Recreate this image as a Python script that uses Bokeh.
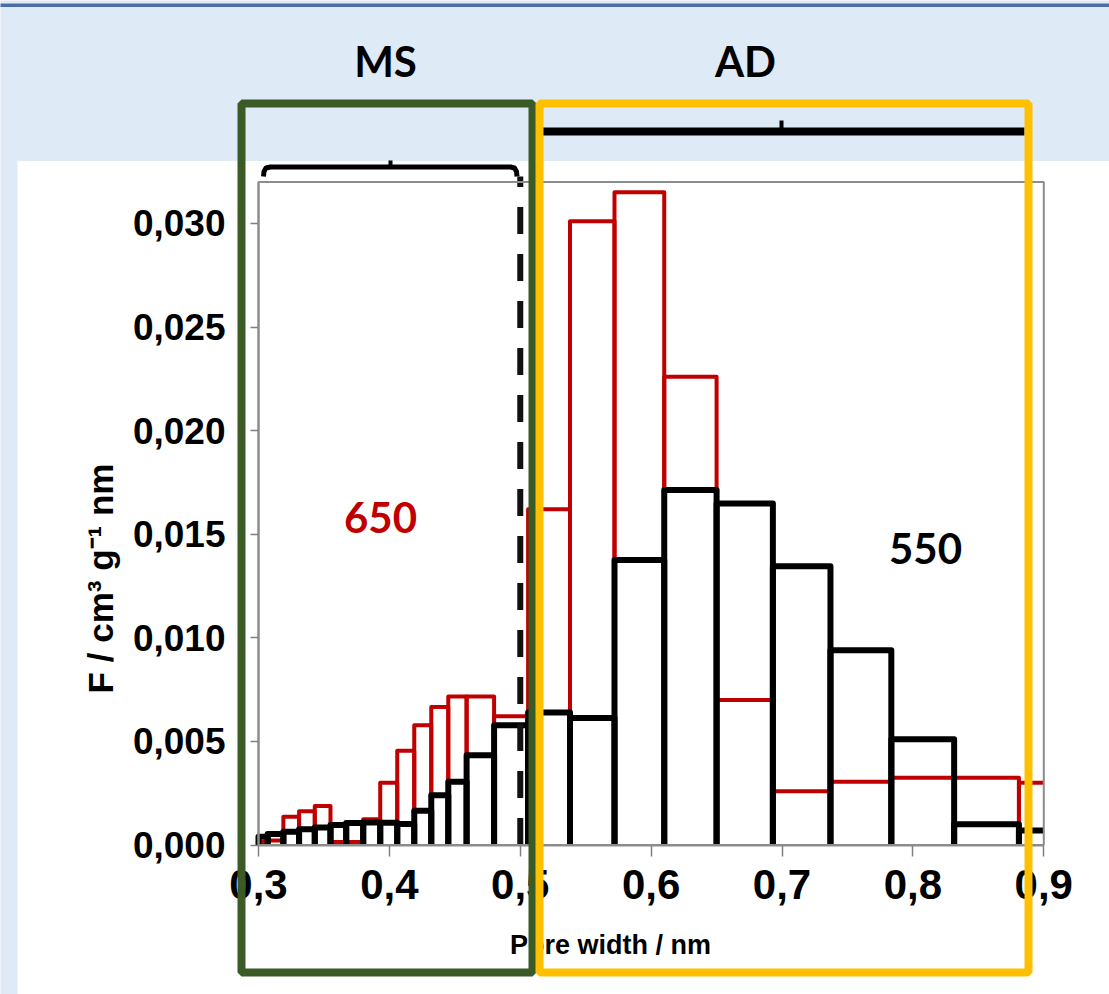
import math
from bokeh.plotting import figure
from bokeh.models import (Range1d, LinearAxis, FixedTicker, CustomJSTickFormatter,
                          BoxAnnotation, Label)
from bokeh.embed import file_html
from bokeh.resources import INLINE

# ---------------- data ----------------
bin_edges = [0.300, 0.307, 0.319, 0.331, 0.343, 0.355, 0.367, 0.380, 0.393, 0.406,
             0.419, 0.432, 0.445, 0.459, 0.480, 0.506, 0.538, 0.572, 0.610, 0.650,
             0.693, 0.737, 0.7835, 0.8315, 0.881, 0.930]
f_650 = [0.00015, 0.00022, 0.00136, 0.00163, 0.00188, 0.00014, 0.00014, 0.00124,
         0.00300, 0.00455, 0.00578, 0.00666, 0.00717, 0.00717, 0.00621, 0.01620,
         0.03010, 0.03150, 0.02260, 0.00700, 0.00260, 0.00305, 0.00325, 0.00324,
         0.00300]
f_550 = [0.00040, 0.00053, 0.00064, 0.00076, 0.00085, 0.00096, 0.00106, 0.00109,
         0.00107, 0.00101, 0.00165, 0.00240, 0.00305, 0.00433, 0.00578, 0.00640,
         0.00613, 0.01375, 0.01713, 0.01648, 0.01345, 0.00940, 0.00510, 0.00100,
         0.00070]
x_ticks = [0.3, 0.4, 0.5, 0.6, 0.7, 0.8, 0.9]
y_ticks = [0.000, 0.005, 0.010, 0.015, 0.020, 0.025, 0.030]
x_min, x_max = 0.3, 0.9
y_min, y_max = 0.0, 0.032
ms_ad_boundary = 0.5
series_labels = ["650", "550"]
section_labels = ["MS", "AD"]
x_title = "Pore width / nm"
y_title = "F / cm³ g⁻¹ nm"

# ---------------- geometry (pixels) ----------------
W, H = 1109, 994
PX_L, PX_R = 258.0, 1043.3
PY_B, PY_T = 844.5, 181.5
sx = (PX_R - PX_L) / (x_max - x_min)
sy = (PY_B - PY_T) / (y_max - y_min)


def dx(px):
    return x_min + (px - PX_L) / sx


def dy(py):
    return y_min + (PY_B - py) / sy


RED = "#C00000"
BLACK = "#000000"
GRAY = "#8C8C8C"
BG = "#DEEAF6"
SANS = "Liberation Sans, Arial, sans-serif"
CAL = "Lato, Open Sans, sans-serif"

p = figure(width=W, height=H, output_backend="svg", toolbar_location=None,
           x_range=Range1d(dx(0), dx(W)), y_range=Range1d(dy(H), dy(0)),
           x_axis_location=None, y_axis_location=None, title=None,
           min_border=0, min_border_left=0, min_border_right=0,
           min_border_top=0, min_border_bottom=0)
p.outline_line_color = None
p.background_fill_color = BG
p.border_fill_color = BG
for g in p.grid:
    g.visible = False

# backgrounds
p.add_layout(BoxAnnotation(left=dx(17), right=dx(W + 10), top=dy(160.5), bottom=dy(H + 10),
                           fill_color="white", fill_alpha=1, line_color=None, level="underlay"))
p.add_layout(BoxAnnotation(left=dx(-10), right=dx(W + 10), top=dy(3), bottom=dy(6.5),
                           fill_color="#4A6EA5", fill_alpha=1, line_color=None, level="underlay"))


def outlines(edges, vals):
    xs, ys = [], []
    for l, r, v in zip(edges[:-1], edges[1:], vals):
        if r <= x_max + 1e-9:
            xs.append([l, l, r, r]); ys.append([0, v, v, 0])
        else:
            xs.append([l, l, x_max]); ys.append([0, v, v])
    return xs, ys


xs, ys = outlines(bin_edges, f_650)
p.multi_line(xs, ys, line_color=RED, line_width=4, line_join="round")
xs, ys = outlines(bin_edges, f_550)
p.multi_line(xs, ys, line_color=BLACK, line_width=6, line_join="round")

# MS / AD boundary dashed line
p.segment(x0=[ms_ad_boundary], y0=[y_min], x1=[ms_ad_boundary], y1=[dy(176)],
          line_color="#111111", line_width=6, line_dash="27 20")

# braces
bx = [263, 263.5, 265.5, 270, 510, 514, 516, 516.5]
by = [176, 171, 167.5, 166.5, 166.5, 167.5, 171, 176]
p.line([dx(v) for v in bx], [dy(v) for v in by], line_color=BLACK, line_width=5, line_join="round")
p.line([dx(390), dx(390)], [dy(166.5), dy(160)], line_color=BLACK, line_width=4)
p.line([dx(542), dx(1024)], [dy(131), dy(131)], line_color=BLACK, line_width=8)
p.line([dx(781), dx(781)], [dy(131), dy(120)], line_color=BLACK, line_width=4)

# axes
xaxis = LinearAxis(fixed_location=y_min, bounds=(x_min, x_max),
                   ticker=FixedTicker(ticks=x_ticks),
                   formatter=CustomJSTickFormatter(code="return tick.toFixed(1).replace('.', ',');"))
yaxis = LinearAxis(fixed_location=x_min, bounds=(y_min, y_max),
                   ticker=FixedTicker(ticks=y_ticks),
                   formatter=CustomJSTickFormatter(code="return tick.toFixed(3).replace('.', ',');"))
for ax in (xaxis, yaxis):
    ax.axis_line_color = GRAY
    ax.axis_line_width = 2
    ax.major_tick_line_color = "#7F7F7F"
    ax.major_tick_line_width = 1.5
    ax.major_tick_in = 0
    ax.minor_tick_out = 0
    ax.minor_tick_in = 0
    ax.major_label_text_color = BLACK
    ax.major_label_text_font_style = "bold"
    ax.major_label_text_font = SANS
xaxis.major_tick_out = 11
xaxis.major_label_text_font_size = "42px"
xaxis.major_label_standoff = 14
yaxis.major_tick_out = 8
yaxis.major_label_text_font_size = "37px"
yaxis.major_label_standoff = 25
p.add_layout(xaxis, "below")
p.add_layout(yaxis, "left")

# texts
p.add_layout(Label(x=dx(610), y=dy(944), text=x_title, text_align="center", text_baseline="middle",
                   text_font=SANS, text_font_style="bold", text_font_size="27px", text_color=BLACK))
p.add_layout(Label(x=dx(100), y=dy(578), text=y_title, text_align="center", text_baseline="middle",
                   angle=math.pi / 2, text_font=SANS, text_font_style="bold", text_font_size="35px",
                   text_color=BLACK))
p.add_layout(Label(x=dx(380), y=dy(517), text=series_labels[0], text_align="center",
                   text_baseline="middle", text_font=CAL, text_font_style="bold",
                   text_font_size="42px", text_color=RED))
p.add_layout(Label(x=dx(925), y=dy(548), text=series_labels[1], text_align="center",
                   text_baseline="middle", text_font=CAL, text_font_style="bold",
                   text_font_size="42px", text_color=BLACK))
p.add_layout(Label(x=dx(385), y=dy(60), text=section_labels[0], text_align="center",
                   text_baseline="middle", text_font=CAL, text_font_style="bold",
                   text_font_size="42px", text_color=BLACK))
p.add_layout(Label(x=dx(745), y=dy(60), text=section_labels[1], text_align="center",
                   text_baseline="middle", text_font=CAL, text_font_style="bold",
                   text_font_size="42px", text_color=BLACK))

# plot frame
p.add_layout(BoxAnnotation(left=x_min, right=x_max, bottom=y_min, top=y_max,
                           fill_alpha=0, line_color=GRAY, line_alpha=1, line_width=2))
# MS and AD boxes
p.add_layout(BoxAnnotation(left=dx(241), right=dx(532), top=dy(103), bottom=dy(972),
                           fill_alpha=0, line_color="#3A5A26", line_alpha=1, line_width=8))
p.add_layout(BoxAnnotation(left=dx(539), right=dx(1028), top=dy(103), bottom=dy(972),
                           fill_alpha=0, line_color="#FFC000", line_alpha=1, line_width=8))

open("out.html", "w").write(file_html(p, INLINE))
